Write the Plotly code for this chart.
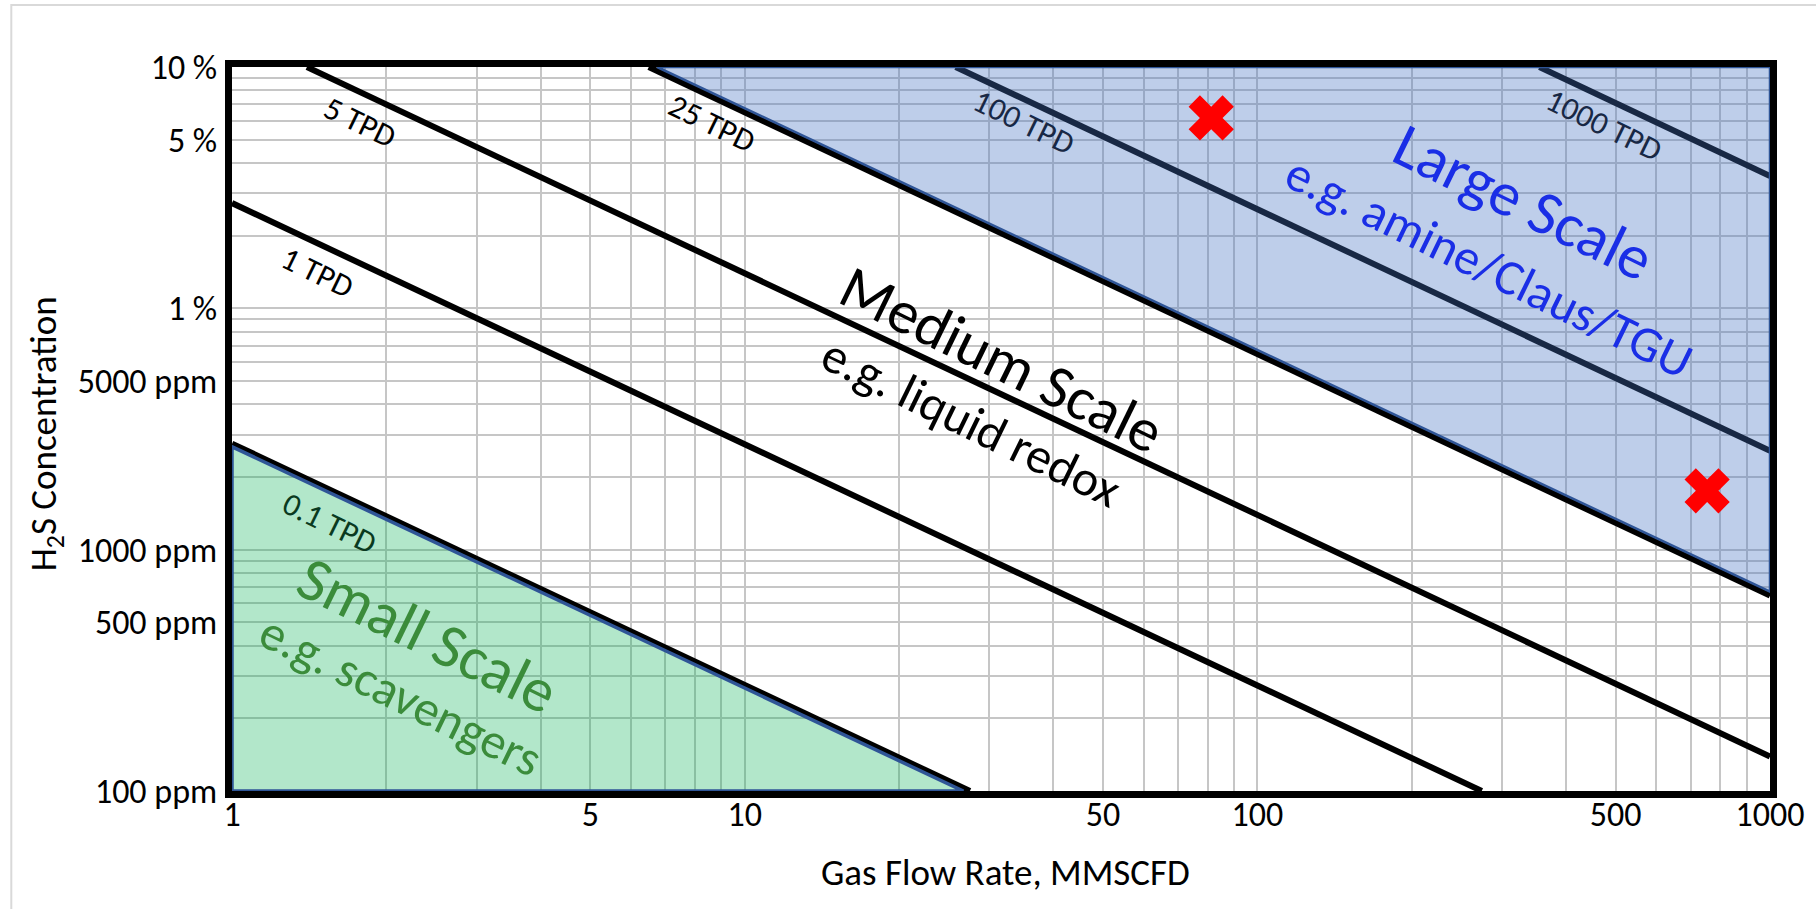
import numpy as np
import plotly.graph_objects as go

# ---------------- data ----------------
tpd_names = ["0.1 TPD", "1 TPD", "5 TPD", "25 TPD", "100 TPD", "1000 TPD"]
tpd_x = [[1, 27.5], [1, 274], [1.40, 1000], [6.5, 1000], [25.8, 1000], [355, 1000]]
tpd_y = [[2750, 100], [27300, 100], [100000, 139], [100000, 645], [100000, 2570], [100000, 35300]]

small_x = [1, 1, 26.7, 1]
small_y = [100, 2670, 100, 100]
large_x = [6.75, 1000, 1000, 6.75]
large_y = [100000, 100000, 670, 100000]

cases_x = [81.3, 754]
cases_y = [61500, 1754]

x_tick_vals = [1, 5, 10, 50, 100, 500, 1000]
x_tick_text = ["1", "5", "10", "50", "100", "500", "1000"]
y_tick_vals = [100, 500, 1000, 5000, 10000, 50000, 100000]
y_tick_text = ["100 ppm", "500 ppm", "1000 ppm", "5000 ppm", "1 %", "5 %", "10 %"]

FONT = "Calibri, Carlito, Lato, sans-serif"

fig = go.Figure()

# TPD lines (drawn first so the shaded regions tint them)
for xs, ys in zip(tpd_x, tpd_y):
    fig.add_trace(go.Scatter(x=xs, y=ys, mode="lines",
                             line=dict(color="black", width=6),
                             hoverinfo="skip"))

# shaded regions
fig.add_trace(go.Scatter(x=large_x, y=large_y, mode="lines", fill="toself",
                         fillcolor="rgba(68,114,196,0.35)",
                         line=dict(color="#2F5597", width=2.5), hoverinfo="skip"))
fig.add_trace(go.Scatter(x=small_x, y=small_y, mode="lines", fill="toself",
                         fillcolor="rgba(0,176,80,0.30)",
                         line=dict(color="#2F5597", width=3.5), hoverinfo="skip"))

# case markers
fig.add_trace(go.Scatter(x=cases_x, y=cases_y, mode="markers",
                         marker=dict(symbol="x", size=40, color="#FF0000",
                                     line=dict(width=0)),
                         hoverinfo="skip"))

minor_vals = [m * 10 ** d for d in range(0, 3) for m in range(2, 10)]
minor_vals_y = [m * 10 ** d for d in range(2, 5) for m in range(2, 10)]

axis_common = dict(
    type="log", showline=True, linecolor="black", linewidth=7, mirror=True,
    showgrid=True, gridcolor="#c6c6c6", gridwidth=2, ticks="",
    zeroline=False, tickfont=dict(family=FONT, size=34, color="black"),
)
fig.update_xaxes(range=[0, 3], tickmode="array", tickvals=x_tick_vals,
                 ticktext=x_tick_text, ticklabelstandoff=-13,
                 minor=dict(tickvals=minor_vals, showgrid=True,
                            gridcolor="#c6c6c6", gridwidth=2, ticks=""),
                 **axis_common)
fig.update_yaxes(range=[2, 5], tickmode="array", tickvals=y_tick_vals,
                 ticktext=y_tick_text, ticklabelstandoff=1,
                 minor=dict(tickvals=minor_vals_y, showgrid=True,
                            gridcolor="#c6c6c6", gridwidth=2, ticks=""),
                 **axis_common)

ann = []
def lab(text, lx, ly, size, color, angle=26):
    ann.append(dict(text=text, x=lx, y=ly, xref="x", yref="y",
                    showarrow=False, textangle=angle,
                    font=dict(family=FONT, size=size, color=color)))

# label positions in log10 axis units
lab("5 TPD", 0.249, 4.768, 32, "black")
lab("1 TPD", 0.166, 4.150, 32, "black")
lab("25 TPD", 0.935, 4.764, 32, "black")
lab("100 TPD", 1.545, 4.770, 32, "#182845")
lab("1000 TPD", 2.677, 4.757, 32, "#182845")
lab("0.1 TPD", 0.191, 3.110, 32, "#0a3a1f")
lab("Medium Scale", 1.502, 3.790, 61, "black")
lab("e.g. liquid redox", 1.442, 3.530, 50, "black")
lab("Large Scale", 2.519, 4.440, 62, "#1a2ee6")
lab("e.g. amine/Claus/TGU", 2.453, 4.175, 50, "#1a2ee6")
lab("Small Scale", 0.382, 2.645, 62, "#3b8c3b")
lab("e.g. scavengers", 0.329, 2.400, 50, "#3b8c3b")

# axis titles
ann.append(dict(text="Gas Flow Rate, MMSCFD", x=0.503, y=-0.1119, xref="paper",
                yref="paper", showarrow=False, xanchor="center", yanchor="middle",
                font=dict(family=FONT, size=37, color="black")))
ann.append(dict(text="H<sub>2</sub>S Concentration", x=-0.1208, y=0.493,
                xref="paper", yref="paper", showarrow=False, textangle=-90,
                xanchor="center", yanchor="middle",
                font=dict(family=FONT, size=37, color="black")))

fig.update_layout(
    width=1816, height=909, showlegend=False,
    margin=dict(l=232, r=44, t=67, b=118),
    paper_bgcolor="white", plot_bgcolor="white",
    annotations=ann,
    shapes=[dict(type="rect", xref="paper", yref="paper",
                 x0=-0.1435, x1=1.2, y0=-0.3, y1=1.0856,
                 line=dict(color="#d9d9d9", width=2), layer="below")],
)

fig.write_html("out.html", config={"displayModeBar": False},
               post_script="document.body.style.margin='0';"
                           "document.body.style.overflow='hidden';")
